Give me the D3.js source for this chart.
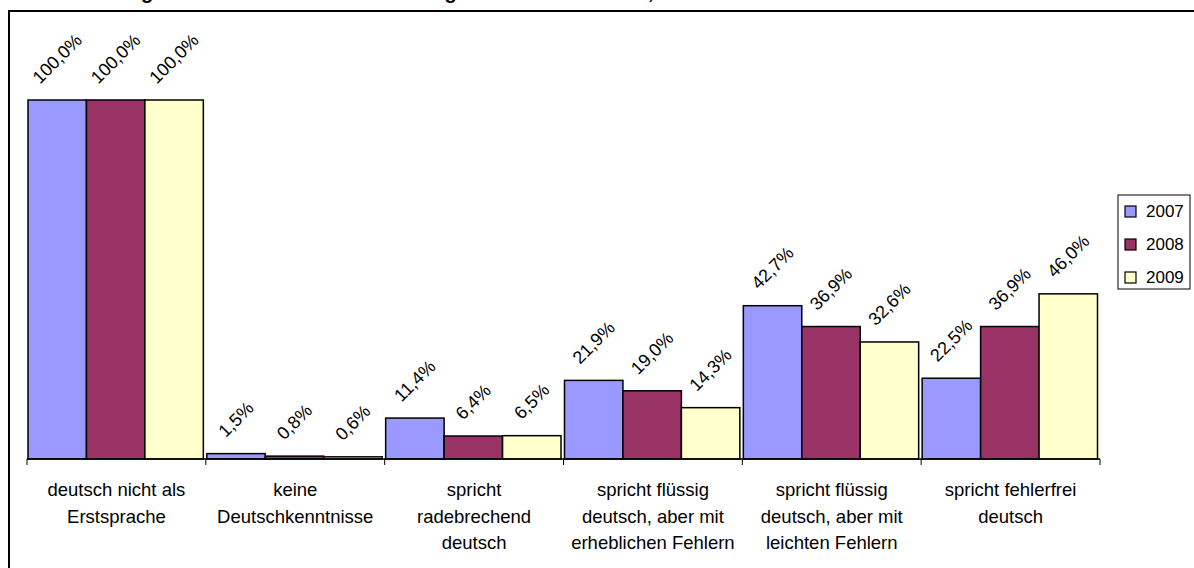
<!DOCTYPE html>
<html><head><meta charset="utf-8">
<script src="https://cdn.jsdelivr.net/npm/d3@7"></script>
<style>
html,body{margin:0;padding:0;background:#fff;overflow:hidden}
svg{display:block;font-family:"Liberation Sans",Arial,sans-serif}
</style></head>
<body><svg id="chart" width="1194" height="568"></svg>
<script>
const title = "Entwicklung der Deutschkenntnisse im Vergleich der Jahre 2007, 2008 und 2009";
const categories = [
  "deutsch nicht als\nErstsprache",
  "keine\nDeutschkenntnisse",
  "spricht\nradebrechend\ndeutsch",
  "spricht flüssig\ndeutsch, aber mit\nerheblichen Fehlern",
  "spricht flüssig\ndeutsch, aber mit\nleichten Fehlern",
  "spricht fehlerfrei\ndeutsch"
];
const seriesNames = ["2007", "2008", "2009"];
const values2007 = [100.0, 1.5, 11.4, 21.9, 42.7, 22.5];
const values2008 = [100.0, 0.8, 6.4, 19.0, 36.9, 36.9];
const values2009 = [100.0, 0.6, 6.5, 14.3, 32.6, 46.0];
const colors = ["#9999FF", "#993366", "#FFFFCC"];

const series = [values2007, values2008, values2009];
const svg = d3.select("#chart");
const fmt = v => d3.format(".1f")(v).replace(".", ",") + "%";

// chart area border (extends beyond the visible window)
svg.append("rect").attr("x", 9).attr("y", 11).attr("width", 1400).attr("height", 800)
  .attr("fill", "none").attr("stroke", "#000").attr("stroke-width", 2);

// clipped title (only descenders visible, as in the reference)
const t = svg.append("text").attr("x", 0).attr("y", -1)
  .attr("font-size", 20).attr("font-weight", "bold").attr("fill", "#000").text(title);
const gi = title.indexOf("g");
const gx = t.node().getStartPositionOfChar(gi).x;
t.attr("x", 141 - gx);

const x0 = d3.scaleBand().domain(categories).range([27, 1100]).paddingInner(0).paddingOuter(0);
const x1 = d3.scaleBand().domain(seriesNames).range([1, x0.bandwidth() - 2.5]).padding(0);
const y = d3.scaleLinear().domain([0, 100]).range([459, 100]);

// bars
const groups = svg.append("g").selectAll("g").data(categories).join("g")
  .attr("transform", d => `translate(${x0(d)},0)`);
groups.each(function(cat, ci) {
  const g = d3.select(this);
  seriesNames.forEach((s, si) => {
    const v = series[si][ci];
    g.append("rect")
      .attr("x", x1(s)).attr("y", y(v))
      .attr("width", x1.bandwidth()).attr("height", y(0) - y(v))
      .attr("fill", colors[si]).attr("stroke", "#000").attr("stroke-width", 1.5);
    const cx = x1(s) + x1.bandwidth() / 2;
    const lbl = g.append("text")
      .attr("font-size", 18).attr("fill", "#000")
      .attr("text-anchor", "middle").attr("dominant-baseline", "central")
      .text(fmt(v));
    const len = lbl.node().getComputedTextLength();
    const half = (len + 13) * 0.7071 / 2;
    const cy = y(v) - 15 - half;
    lbl.attr("transform", `translate(${cx},${cy}) rotate(-45)`);
  });
});

// x axis
const axis = svg.append("g").attr("transform", `translate(0,${y(0)})`);
axis.append("line").attr("x1", 27).attr("x2", 1100).attr("y1", 0).attr("y2", 0)
  .attr("stroke", "#000").attr("stroke-width", 1.5);
const tickXs = categories.map(c => x0(c)).concat([x0.range()[1]]);
axis.selectAll("line.tick").data(tickXs).join("line").attr("class", "tick")
  .attr("x1", d => d).attr("x2", d => d).attr("y1", 0).attr("y2", 6)
  .attr("stroke", "#000").attr("stroke-width", 1);
categories.forEach(c => {
  const lines = c.split("\n");
  const tx = axis.append("text").attr("text-anchor", "middle")
    .attr("font-size", 18.5).attr("fill", "#000");
  lines.forEach((ln, i) => {
    tx.append("tspan").attr("x", x0(c) + x0.bandwidth() / 2).attr("y", 37 + i * 26.5).text(ln);
  });
});

// legend
const lg = svg.append("g").attr("transform", "translate(1118,195)");
lg.append("rect").attr("x", 0).attr("y", 0).attr("width", 72).attr("height", 94)
  .attr("fill", "#fff").attr("stroke", "#000").attr("stroke-width", 1);
seriesNames.forEach((s, i) => {
  lg.append("rect").attr("x", 7).attr("y", 11 + i * 33).attr("width", 11).attr("height", 11)
    .attr("fill", colors[i]).attr("stroke", "#000").attr("stroke-width", 1.2);
  lg.append("text").attr("x", 28).attr("y", 22 + i * 33).attr("font-size", 17)
    .attr("fill", "#000").text(s);
});
</script></body></html>
